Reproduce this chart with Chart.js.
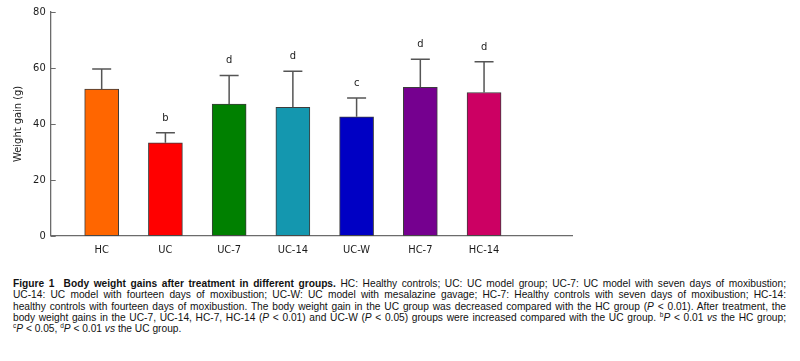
<!DOCTYPE html>
<html>
<head>
<meta charset="utf-8">
<script src="https://cdn.jsdelivr.net/npm/chart.js@4.4.0/dist/chart.umd.min.js"></script>
<style>
  html, body { margin: 0; padding: 0; background: #fff; }
  #wrap { position: relative; width: 800px; height: 361px; overflow: hidden; }
  #chartBox { position: absolute; left: 0; top: 0; width: 800px; height: 262px; }
  #caption {
    position: absolute; left: 13px; top: 278px; width: 773px;
    font-family: 'Liberation Sans', Arial, sans-serif; font-size: 10.2px; line-height: 11.3px; color: #111;
  }
  #caption .ln { white-space: nowrap; text-align: justify; text-align-last: justify; }
  #caption .ln.last { text-align-last: left; }
  #caption sup { font-size: 6.5px; line-height: 0; vertical-align: 4px; }
</style>
</head>
<body>
<div id="wrap">
  <div id="chartBox"><canvas id="chart"></canvas></div>
  <div id="caption">
    <div class="ln"><b>Figure 1&nbsp; Body weight gains after treatment in different groups.</b> HC: Healthy controls; UC: UC model group; UC-7: UC model with seven days of moxibustion;</div>
    <div class="ln">UC-14: UC model with fourteen days of moxibustion; UC-W: UC model with mesalazine gavage; HC-7: Healthy controls with seven days of moxibustion; HC-14:</div>
    <div class="ln">healthy controls with fourteen days of moxibustion. The body weight gain in the UC group was decreased compared with the HC group (<i>P</i> &lt; 0.01). After treatment, the</div>
    <div class="ln">body weight gains in the UC-7, UC-14, HC-7, HC-14 (<i>P</i> &lt; 0.01) and UC-W (<i>P</i> &lt; 0.05) groups were increased compared with the UC group. <sup>b</sup><i>P</i> &lt; 0.01 <i>vs</i> the HC group;</div>
    <div class="ln last"><sup>c</sup><i>P</i> &lt; 0.05, <sup>d</sup><i>P</i> &lt; 0.01 <i>vs</i> the UC group.</div>
  </div>
</div>
<script>
// values
const groups = ['HC', 'UC', 'UC-7', 'UC-14', 'UC-W', 'HC-7', 'HC-14'];
const meanGain = [52.4, 33.2, 47.1, 45.9, 42.5, 53.1, 51.2];
const sdGain = [7.2, 3.6, 10.2, 12.9, 6.7, 10.0, 11.0];
const sigMarks = ['', 'b', 'd', 'd', 'c', 'd', 'd'];
const barColors = ['#FF6600', '#FF0000', '#008000', '#1497AF', '#0000C4', '#75008F', '#CC0063'];
const yTicks = [0, 20, 40, 60, 80];

const tickFont = { family: "'DejaVu Sans Condensed', 'DejaVu Sans', sans-serif", size: 11 };
const axisColor = '#6b6b6b';

// error whiskers, significance letters and inward y ticks
const extras = {
    id: 'extras',
    afterDatasetsDraw(chart) {
        const ctx = chart.ctx;
        const xs = chart.scales.x, ys = chart.scales.y;
        ctx.save();
        // y ticks pointing into the plot
        ctx.strokeStyle = axisColor;
        ctx.lineWidth = 1;
        yTicks.forEach(t => {
            const py = Math.round(ys.getPixelForValue(t)) + 0.5;
            ctx.beginPath();
            ctx.moveTo(xs.left, py);
            ctx.lineTo(xs.left + 5, py);
            ctx.stroke();
        });
        ctx.strokeStyle = '#555';
        ctx.lineWidth = 1.5;
        ctx.font = "11px 'DejaVu Sans Condensed', 'DejaVu Sans', sans-serif";
        ctx.fillStyle = '#1a1a1a';
        ctx.textAlign = 'center';
        ctx.textBaseline = 'middle';
        meanGain.forEach((m, i) => {
            const px = xs.getPixelForValue(i + 1);
            const top = ys.getPixelForValue(m);
            const err = ys.getPixelForValue(m + sdGain[i]);
            ctx.beginPath();
            ctx.moveTo(px, top);
            ctx.lineTo(px, err);
            ctx.moveTo(px - 9.5, err);
            ctx.lineTo(px + 9.5, err);
            ctx.stroke();
            if (sigMarks[i]) ctx.fillText(sigMarks[i], px, err - 15);
        });
        ctx.restore();
    }
};

new Chart(document.getElementById('chart'), {
    type: 'bar',
    data: {
        datasets: [{
            data: meanGain.map((v, i) => ({ x: i + 1, y: v })),
            backgroundColor: barColors,
            borderColor: '#3c3c3c',
            borderWidth: 1,
            borderSkipped: false,
            barThickness: 34
        }]
    },
    options: {
        responsive: true,
        maintainAspectRatio: false,
        animation: false,
        layout: { padding: { top: 12, right: 228, left: 0, bottom: 0 } },
        plugins: { legend: { display: false }, tooltip: { enabled: false } },
        scales: {
            x: {
                type: 'linear',
                offset: false,
                min: 0.2,
                max: 8.38,
                grid: { display: false, drawTicks: false, offset: false },
                border: { color: axisColor, width: 1.3 },
                afterBuildTicks: scale => { scale.ticks = groups.map((g, i) => ({ value: i + 1 })); },
                afterFit: scale => { scale.height = 26.3; },
                ticks: {
                    color: '#1a1a1a',
                    font: tickFont,
                    padding: 8,
                    maxRotation: 0,
                    autoSkip: false,
                    callback: v => groups[v - 1]
                }
            },
            y: {
                min: 0,
                max: 80,
                grid: { display: false, drawTicks: false },
                border: { color: axisColor, width: 1.3 },
                afterBuildTicks: scale => { scale.ticks = yTicks.map(v => ({ value: v })); },
                afterFit: scale => { scale.width = 50.7; },
                ticks: { color: '#1a1a1a', font: tickFont, padding: 5 },
                title: {
                    display: true,
                    text: 'Weight gain (g)',
                    color: '#1a1a1a',
                    font: tickFont,
                    padding: { top: 12, bottom: 0 }
                }
            }
        }
    },
    plugins: [extras]
});
</script>
</body>
</html>
